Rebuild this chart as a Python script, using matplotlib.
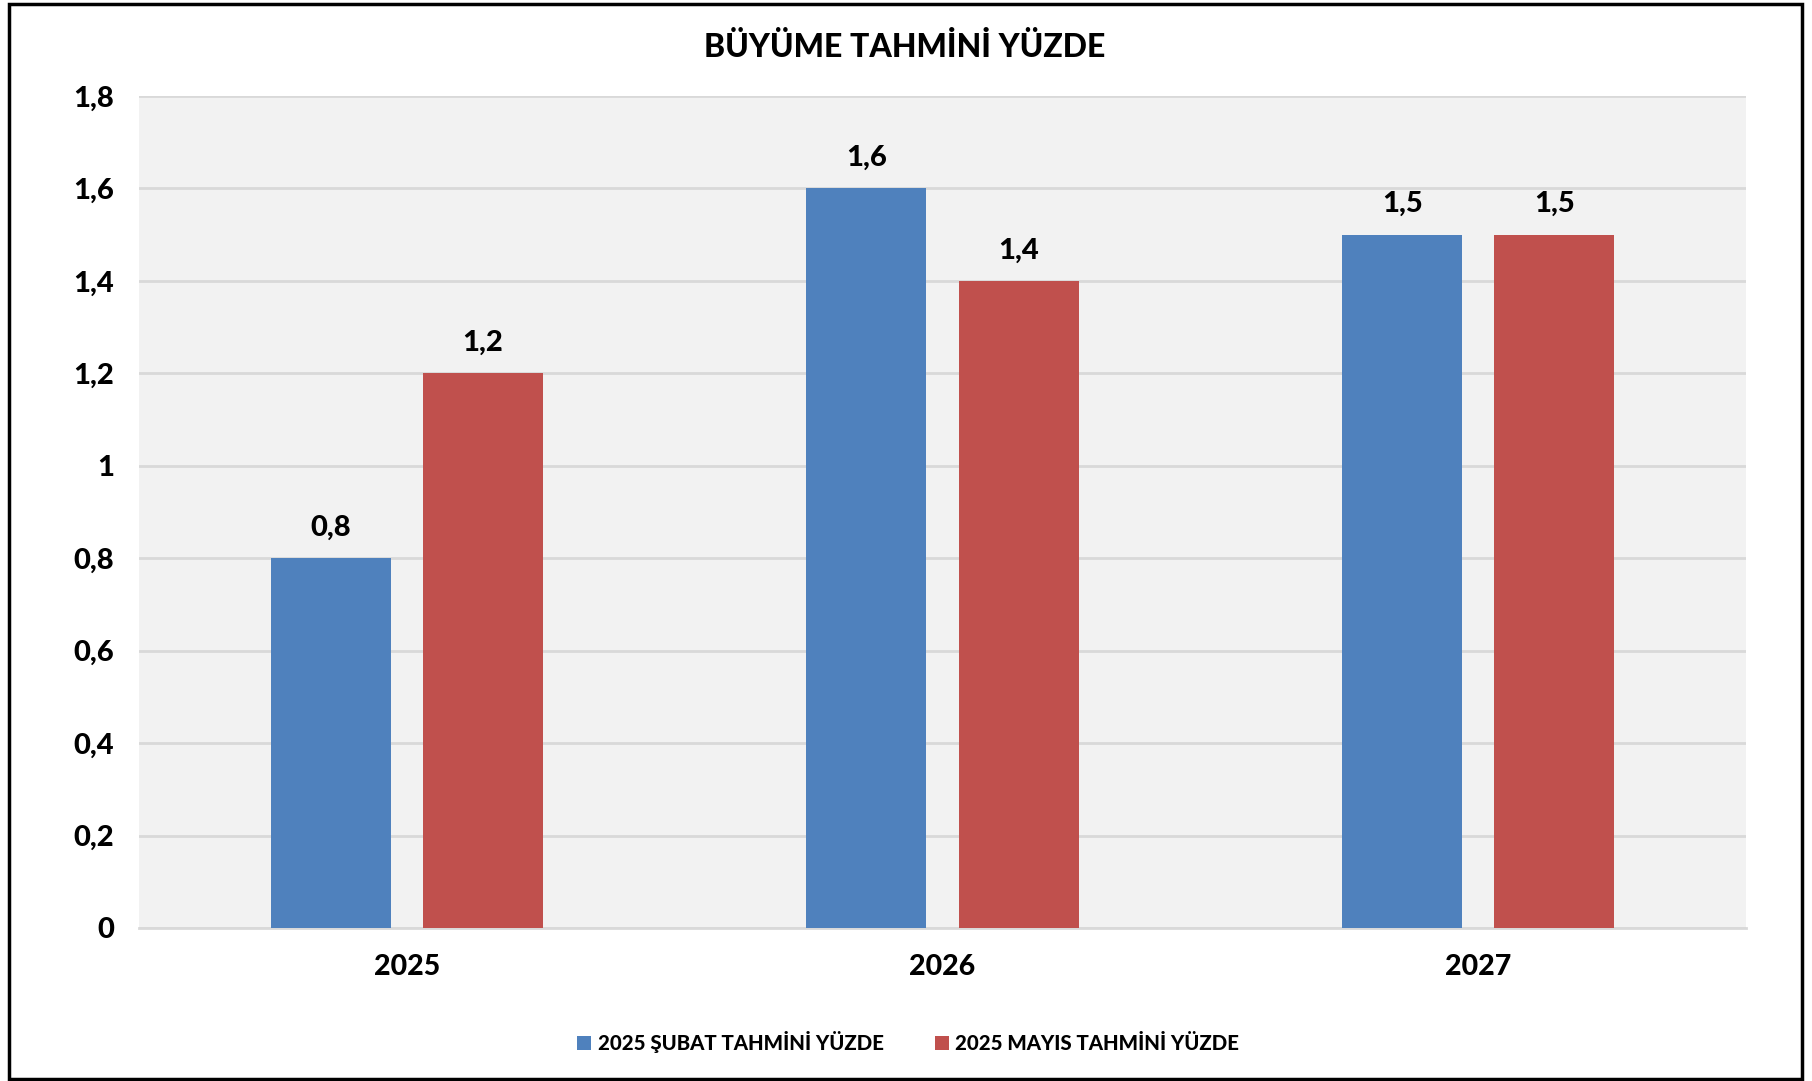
import matplotlib
matplotlib.use("Agg")
import matplotlib.pyplot as plt
import numpy as np
from matplotlib.patches import Rectangle

categories = ["2025", "2026", "2027"]
series_names = ["2025 ŞUBAT TAHMİNİ YÜZDE", "2025 MAYIS TAHMİNİ YÜZDE"]
subat = [0.8, 1.6, 1.5]
mayis = [1.2, 1.4, 1.5]
yticks = [0, 0.2, 0.4, 0.6, 0.8, 1.0, 1.2, 1.4, 1.6, 1.8]
title = "BÜYÜME TAHMİNİ YÜZDE"

colors = ["#4f81bd", "#c0504d"]
font = ["Lato", "DejaVu Sans"]

W, H = 1812, 1081
fig = plt.figure(figsize=(W / 100, H / 100), dpi=100)
fig.patch.set_facecolor("white")

# outer border
fig.patches.append(Rectangle((9 / W, 1 - 1079 / H), (1802 - 9) / W, (1079 - 4) / H,
                             transform=fig.transFigure, fill=False,
                             edgecolor="black", linewidth=2.5))

left, right, top, bottom = 139, 1746, 96, 928
ax = fig.add_axes([left / W, 1 - bottom / H, (right - left) / W, (bottom - top) / H])
ax.set_facecolor("#f2f2f2")

x = np.arange(len(categories))
bw = 0.224
off = 0.142
ax.bar(x - off, subat, bw, color=colors[0], label=series_names[0], zorder=3)
ax.bar(x + off, mayis, bw, color=colors[1], label=series_names[1], zorder=3)

def fmt(v):
    s = f"{v:.1f}".replace(".", ",")
    if s.endswith(",0"):
        s = s[:-2]
    return s

for xi, v in zip(x - off, subat):
    ax.annotate(fmt(v), (xi, v), xytext=(0, 22), textcoords="offset points",
                ha="center", va="center", fontsize=21, fontweight="black", family=font)
for xi, v in zip(x + off, mayis):
    ax.annotate(fmt(v), (xi, v), xytext=(0, 22), textcoords="offset points",
                ha="center", va="center", fontsize=21, fontweight="black", family=font)

ax.set_xlim(-0.5, len(categories) - 0.5)
ax.set_ylim(0, 1.8)
ax.set_yticks(yticks)
ax.set_yticklabels([fmt(v) for v in yticks], fontsize=21, fontweight="black", family=font)
ax.set_xticks(x)
ax.set_xticklabels(categories, fontsize=20.5, fontweight="black", family=font)
ax.tick_params(axis="y", length=0, pad=18)
ax.tick_params(axis="x", length=0, pad=19)
ax.grid(axis="y", color="#d9d9d9", linewidth=2, zorder=1)
for s in ["top", "right", "left"]:
    ax.spines[s].set_visible(False)
ax.spines["bottom"].set_color("#d9d9d9")
ax.spines["bottom"].set_linewidth(2)

fig.text(905 / W, 1 - 47 / H, title, ha="center", va="center",
         fontsize=23, fontweight="black", family=font)

leg = fig.legend(loc="center", bbox_to_anchor=(908 / W, 1 - 1042 / H), ncol=2,
                 frameon=False, prop={"family": font, "weight": "black", "size": 14.7},
                 handlelength=0.7, handleheight=0.7, handletextpad=0.3, columnspacing=2.5)

fig.savefig("out.png", dpi=100, facecolor="white")
